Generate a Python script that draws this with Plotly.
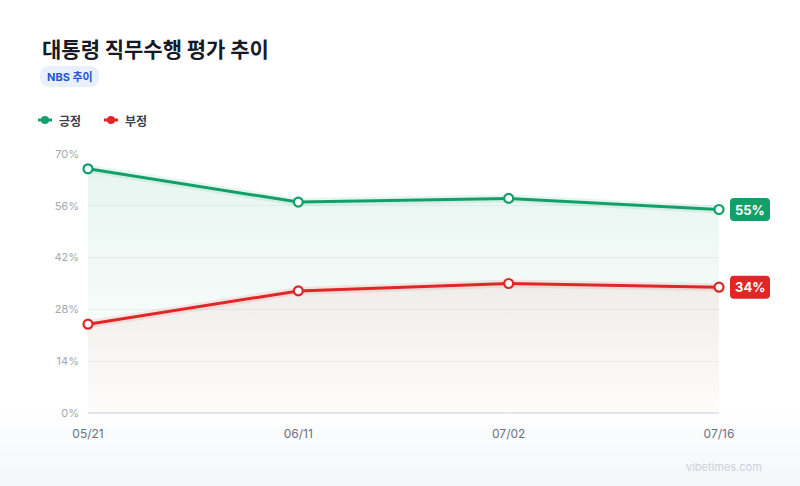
import base64
import plotly.graph_objects as go

# ---- data ----
dates = ["05/21", "06/11", "07/02", "07/16"]
positive = [66, 57, 58, 55]
negative = [24, 33, 35, 34]
y_ticks = [0, 14, 28, 42, 56, 70]
y_tick_labels = ["0%", "14%", "28%", "42%", "56%", "70%"]
series_names = ["긍정", "부정"]

GREEN = "#12a06a"
RED = "#e02626"
FONT = "Inter, Noto Sans CJK KR"
KFONT = "Noto Sans CJK KR"

# plot-area pixel frame (layout only)
L, R, T, B = 88, 719, 154, 413
W, H = 800, 486


def px(x):
    return (x - L) / (R - L)


def py(y):
    return (B - y) / (B - T)


xs = list(range(len(dates)))
fig = go.Figure()

fills = [
    (positive, GREEN, [[0, "rgba(18,160,106,0.0)"], [1, "rgba(18,160,106,0.10)"]]),
    (negative, RED, [[0, "rgba(200,80,60,0.015)"], [1, "rgba(200,80,60,0.075)"]]),
]
for vals, col, cs in fills:
    fig.add_trace(go.Scatter(
        x=xs, y=vals, mode="lines", line=dict(width=0, color=col),
        fill="tozeroy", fillgradient=dict(type="vertical", colorscale=cs),
        hoverinfo="skip", showlegend=False))

for vals, col, rgb in [(positive, GREEN, "18,160,106"), (negative, RED, "224,38,38")]:
    fig.add_trace(go.Scatter(
        x=xs, y=vals, mode="lines", line=dict(width=8, color=f"rgba({rgb},0.10)"),
        hoverinfo="skip", showlegend=False, cliponaxis=False))
    fig.add_trace(go.Scatter(
        x=xs, y=vals, mode="lines+markers",
        line=dict(width=3, color=col),
        marker=dict(size=9, color="white", line=dict(width=2.2, color=col)),
        showlegend=False, cliponaxis=False))

shapes = []
annotations = []

# end labels (anchored at the last point; right edge of plot = paper x 1)
last_px = xs[-1] / (len(dates) - 1)
for vals, col in [(positive, GREEN), (negative, RED)]:
    path = ("M 15,-11.5 L 47,-11.5 Q 51,-11.5 51,-7.5 L 51,7.5 Q 51,11.5 47,11.5 "
            "L 15,11.5 Q 11,11.5 11,7.5 L 11,-7.5 Q 11,-11.5 15,-11.5 Z")
    shapes.append(dict(type="path", xref="paper", yref="y", xsizemode="pixel", ysizemode="pixel",
                       xanchor=last_px, yanchor=vals[-1], path=path,
                       fillcolor=col, line=dict(width=0), layer="above"))
    annotations.append(dict(x=xs[-1], y=vals[-1], xref="x", yref="y", xshift=31, showarrow=False,
                            text=f"<b>{vals[-1]}%</b>", font=dict(family=FONT, size=13, color="white"),
                            xanchor="center", yanchor="middle"))

# title
annotations.append(dict(x=px(40), y=py(48), xref="paper", yref="paper", showarrow=False,
                        xanchor="left", yanchor="middle",
                        text="<b>대통령 직무수행 평가 추이</b>",
                        font=dict(family=KFONT, size=21, color="#161a26")))


def rrect(x0, y0, x1, y1, r):
    p = [
        f"M {px(x0 + r)},{py(y0)}",
        f"L {px(x1 - r)},{py(y0)}",
        f"Q {px(x1)},{py(y0)} {px(x1)},{py(y0 + r)}",
        f"L {px(x1)},{py(y1 - r)}",
        f"Q {px(x1)},{py(y1)} {px(x1 - r)},{py(y1)}",
        f"L {px(x0 + r)},{py(y1)}",
        f"Q {px(x0)},{py(y1)} {px(x0)},{py(y1 - r)}",
        f"L {px(x0)},{py(y0 + r)}",
        f"Q {px(x0)},{py(y0)} {px(x0 + r)},{py(y0)} Z",
    ]
    return " ".join(p)


# badge
shapes.append(dict(type="path", xref="paper", yref="paper", path=rrect(40, 66, 99, 87, 10),
                   fillcolor="#e9effd", line=dict(width=0)))
annotations.append(dict(x=px(69.5), y=py(76.5), xref="paper", yref="paper", showarrow=False,
                        xanchor="center", yanchor="middle", text="<b>NBS 추이</b>",
                        font=dict(family=FONT, size=11, color="#2457d6")))

# custom legend
for i, (name, col) in enumerate(zip(series_names, [GREEN, RED])):
    x0 = 38 + i * 66
    shapes.append(dict(type="line", xref="paper", yref="paper", x0=px(x0), x1=px(x0 + 14),
                       y0=py(120), y1=py(120), line=dict(color=col, width=3)))
    shapes.append(dict(type="circle", xref="paper", yref="paper", x0=px(x0 + 3), x1=px(x0 + 11),
                       y0=py(116), y1=py(124), fillcolor=col, line=dict(width=0)))
    annotations.append(dict(x=px(x0 + 19), y=py(120), xref="paper", yref="paper", showarrow=False,
                            xanchor="left", yanchor="middle", text=f"<b>{name}</b>",
                            font=dict(family=KFONT, size=12, color="#3a3f4c")))

# watermark
annotations.append(dict(x=px(724), y=py(467), xref="paper", yref="paper", showarrow=False,
                        xanchor="center", yanchor="middle", text="vibetimes.com",
                        font=dict(family=FONT, size=11, color="#cdd2dc")))

# background gradient
svg = ('<svg xmlns="http://www.w3.org/2000/svg" width="800" height="486">'
       '<defs><linearGradient id="g" x1="0" y1="0" x2="0" y2="1">'
       '<stop offset="0.84" stop-color="#ffffff"/><stop offset="1" stop-color="#f4f6fa"/>'
       '</linearGradient></defs><rect width="800" height="486" fill="url(#g)"/></svg>')
src = "data:image/svg+xml;base64," + base64.b64encode(svg.encode()).decode()

fig.update_layout(
    width=W, height=H,
    margin=dict(l=L, r=W - R, t=T, b=H - B, pad=0),
    paper_bgcolor="white", plot_bgcolor="rgba(0,0,0,0)",
    showlegend=False,
    shapes=shapes, annotations=annotations,
    images=[dict(source=src, xref="paper", yref="paper", x=px(0), y=py(0),
                 sizex=W / (R - L), sizey=H / (B - T), sizing="stretch",
                 xanchor="left", yanchor="top", layer="below")],
    font=dict(family=FONT),
    xaxis=dict(range=[0, len(dates) - 1], tickvals=xs, ticktext=dates, showgrid=False,
               zeroline=False, showline=False, ticks="", ticklen=0, ticklabelstandoff=12,
               tickfont=dict(family=FONT, size=12, color="#6b7080")),
    yaxis=dict(range=[0, 70], tickvals=y_ticks, ticktext=y_tick_labels,
               showgrid=True, gridcolor="#f1f2f6", gridwidth=1,
               zeroline=True, zerolinecolor="#e6e8ee", zerolinewidth=2,
               showline=False, ticks="", ticklabelstandoff=8,
               tickfont=dict(family=FONT, size=11, color="#a3a7b3")),
)

fig.write_html("out.html")
